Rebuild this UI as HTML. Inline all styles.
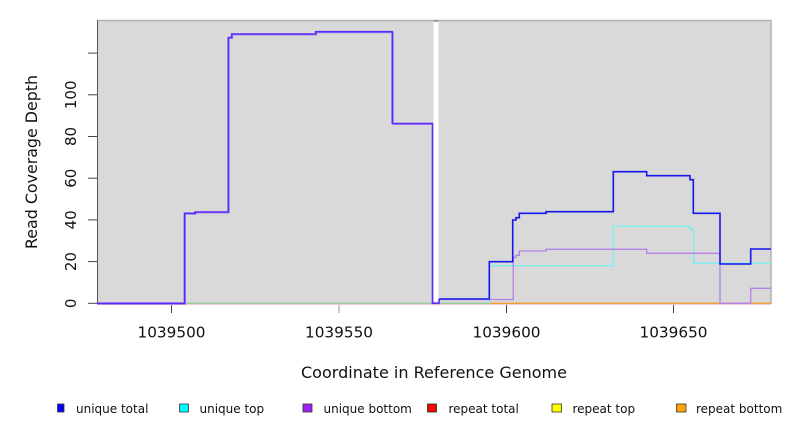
<!DOCTYPE html>
<html>
<head>
<meta charset="utf-8">
<style>
  html, body { margin:0; padding:0; background:#ffffff; }
  svg { display:block; }
  text { font-family: "DejaVu Sans", "Liberation Sans", sans-serif; fill:#111; }
</style>
</head>
<body>
<svg width="792" height="432" viewBox="0 0 792 432" xmlns="http://www.w3.org/2000/svg">
  <rect x="0" y="0" width="792" height="432" fill="#ffffff"/>
  <!-- plot background -->
  <rect x="97" y="20" width="674" height="284" fill="#d9d9d9"/>
  <line x1="97" y1="20.5" x2="771" y2="20.5" stroke="#b4b4b4" stroke-width="1.5"/>
  <line x1="771" y1="20" x2="771" y2="304" stroke="#b4b4b4" stroke-width="1.5"/>
  <!-- gap -->
  <rect x="433.5" y="21.5" width="5" height="280" fill="#ffffff"/>
  <line x1="433.5" y1="21" x2="438.5" y2="21" stroke="#888" stroke-width="1.5"/>
  <!-- left axis -->
  <line x1="97.5" y1="20" x2="97.5" y2="304" stroke="#555" stroke-width="1"/>

  <!-- y ticks -->
  <g stroke="#444" stroke-width="1">
    <line x1="88" y1="303.3" x2="97" y2="303.3"/>
    <line x1="88" y1="261.6" x2="97" y2="261.6"/>
    <line x1="88" y1="219.9" x2="97" y2="219.9"/>
    <line x1="88" y1="178.2" x2="97" y2="178.2"/>
    <line x1="88" y1="136.5" x2="97" y2="136.5"/>
    <line x1="88" y1="94.8" x2="97" y2="94.8"/>
    <line x1="88" y1="53.1" x2="97" y2="53.1"/>
  </g>
  <g font-size="15" text-anchor="middle">
    <text transform="translate(76,303.3) rotate(-90)">0</text>
    <text transform="translate(76,261.6) rotate(-90)">20</text>
    <text transform="translate(76,219.9) rotate(-90)">40</text>
    <text transform="translate(76,178.2) rotate(-90)">60</text>
    <text transform="translate(76,136.5) rotate(-90)">80</text>
    <text transform="translate(76,94.8) rotate(-90)">100</text>
  </g>
  <text transform="translate(37,162) rotate(-90)" font-size="16" text-anchor="middle" textLength="174" lengthAdjust="spacingAndGlyphs">Read Coverage Depth</text>

  <!-- x ticks -->
  <g stroke-width="1">
    <line x1="171.5" y1="304" x2="171.5" y2="313" stroke="#444"/>
    <line x1="339" y1="304" x2="339" y2="313" stroke="#999"/>
    <line x1="506.5" y1="304" x2="506.5" y2="313" stroke="#444"/>
    <line x1="673.5" y1="304" x2="673.5" y2="313" stroke="#444"/>
  </g>
  <g font-size="15.5" text-anchor="middle">
    <text x="171.5" y="337.3" textLength="68" lengthAdjust="spacingAndGlyphs">1039500</text>
    <text x="339" y="337.3" textLength="68" lengthAdjust="spacingAndGlyphs">1039550</text>
    <text x="506.5" y="337.3" textLength="68" lengthAdjust="spacingAndGlyphs">1039600</text>
    <text x="673.5" y="337.3" textLength="68" lengthAdjust="spacingAndGlyphs">1039650</text>
  </g>
  <text x="434" y="378" font-size="16" text-anchor="middle" textLength="266" lengthAdjust="spacingAndGlyphs">Coordinate in Reference Genome</text>

  <!-- baselines -->
  <line x1="97" y1="304.6" x2="771" y2="304.6" stroke="#f2c8c8" stroke-width="1"/>
  <line x1="97" y1="303.3" x2="489.3" y2="303.3" stroke="#8cc88c" stroke-width="1.2"/>
  <line x1="489.3" y1="303.3" x2="771" y2="303.3" stroke="#f0a030" stroke-width="1.4"/>

  <!-- left section: unique total & bottom overlapping -->
  <path d="M97,304.3 H185.5 V214.3 H196 V213 H229.3 V38.5 H232.7 V35 H316.7 V32.7 H393.3 V124.5 H433.5" fill="none" stroke="#a08aec" stroke-width="1"/>
  <path d="M97,303.3 H184.5 V213.3 H195 V212 H228.3 V37.5 H231.7 V34 H315.7 V31.7 H392.3 V123.5 H432.5 V303.3 H439 V299" fill="none" stroke="#5a28fa" stroke-width="1.6"/>

  <!-- unique top (cyan) -->
  <path d="M489.3,303.3 V265.7 H613.3 V226.3 H690.3 V229.3 H693.7 V263.3 H771" fill="none" stroke="#78eeee" stroke-width="1.3"/>
  <!-- unique bottom (purple) -->
  <path d="M439,299.5 H513.3 V257.3 H516 V255.3 H519.3 V251 H546 V249.3 H646.7 V253.3 H720 V303.3 H750.7 V288.3 H771" fill="none" stroke="#b482e6" stroke-width="1.3"/>
  <!-- unique total (blue) -->
  <path d="M439,299 H489.3 V261.7 H512.7 V220 H516 V217.7 H519.3 V213.3 H546 V211.7 H613.3 V171.7 H646.7 V175.7 H690 V179.7 H693.3 V213.3 H720 V264 H750.7 V249 H771" fill="none" stroke="#1616ee" stroke-width="1.6"/>

  <!-- legend -->
  <g stroke="#333" stroke-width="0.8">
    <rect x="57.5" y="404" width="6.5" height="8" fill="#0000ff"/>
    <rect x="179.5" y="404" width="9" height="8" fill="#00ffff"/>
    <rect x="303" y="404" width="9" height="8" fill="#a020f0"/>
    <rect x="427.5" y="404" width="9" height="8" fill="#ff0000"/>
    <rect x="552" y="404" width="9.5" height="8" fill="#ffff00"/>
    <rect x="676.5" y="404" width="9.5" height="8" fill="#ffa500"/>
  </g>
  <g font-size="12">
    <text x="76" y="413">unique total</text>
    <text x="199.5" y="413">unique top</text>
    <text x="323.5" y="413">unique bottom</text>
    <text x="448.5" y="413">repeat total</text>
    <text x="572.5" y="413">repeat top</text>
    <text x="696" y="413">repeat bottom</text>
  </g>
</svg>
</body>
</html>
